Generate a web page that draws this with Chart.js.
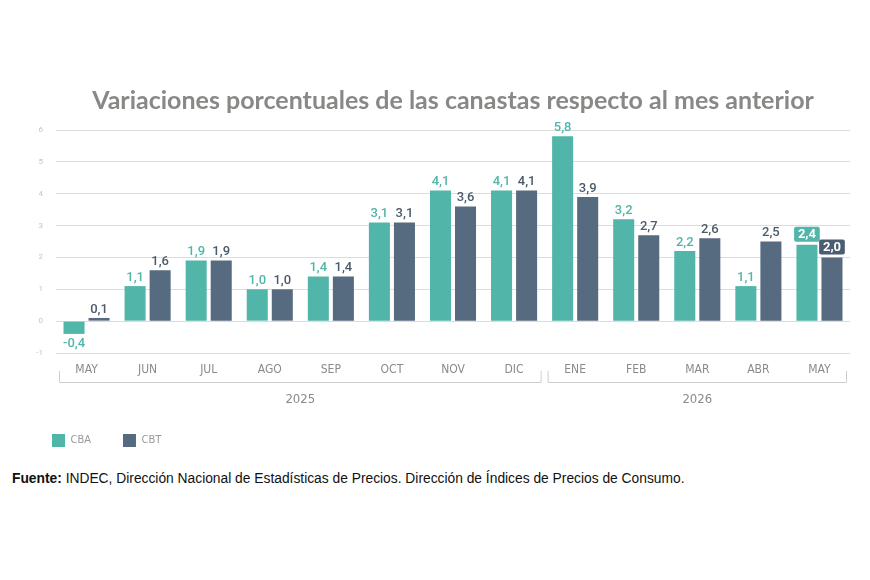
<!DOCTYPE html>
<html>
<head>
<meta charset="utf-8">
<script src="https://cdn.jsdelivr.net/npm/chart.js@4"></script>
<style>
  body { margin: 0; background: #fff; }
  #wrap { position: relative; width: 870px; height: 460px; }
  .fuente { position: absolute; left: 12px; top: 471px; font: 13.8px "Liberation Sans", Arial, sans-serif; color: #111; white-space: nowrap; }
</style>
</head>
<body>
<div id="wrap"><canvas id="myChart"></canvas></div>
<div class="fuente"><b>Fuente:</b> INDEC, Dirección Nacional de Estadísticas de Precios. Dirección de Índices de Precios de Consumo.</div>
<script>
const labels = ['MAY', 'JUN', 'JUL', 'AGO', 'SEP', 'OCT', 'NOV', 'DIC', 'ENE', 'FEB', 'MAR', 'ABR', 'MAY']
const years = [
    { label: '2025', from: 0, to: 7 },
    { label: '2026', from: 8, to: 12 },
]
const cba = [-0.4, 1.1, 1.9, 1.0, 1.4, 3.1, 4.1, 4.1, 5.8, 3.2, 2.2, 1.1, 2.4]
const cbt = [0.1, 1.6, 1.9, 1.0, 1.4, 3.1, 3.6, 4.1, 3.9, 2.7, 2.6, 2.5, 2.0]

const TEAL = '#52b5a9'
const SLATE = '#566a80'
const narrow = '"Liberation Sans Narrow", "DejaVu Sans Condensed", "Arial Narrow", sans-serif'

// etiquetas de valor sobre las barras
const valueLabels = {
    id: 'valueLabels',
    afterDatasetsDraw(chart) {
        const ctx = chart.ctx
        ctx.save()
        ctx.font = '500 13px Roboto, sans-serif'
        ctx.textAlign = 'center'
        chart.data.datasets.forEach((ds, di) => {
            const meta = chart.getDatasetMeta(di)
            meta.data.forEach((bar, i) => {
                const v = ds.data[i]
                const txt = v.toFixed(1).replace('.', ',')
                const last = i === ds.data.length - 1
                if (last) {
                    const w = ctx.measureText(txt).width + 8
                    const h = 15
                    const y = bar.y - 3 - h
                    ctx.fillStyle = di === 0 ? TEAL : '#4b5d70'
                    ctx.beginPath()
                    ctx.roundRect(bar.x - w / 2, y, w, h, 2)
                    ctx.fill()
                    ctx.fillStyle = '#fff'
                    ctx.font = 'bold 13px Roboto, sans-serif'
                    ctx.textBaseline = 'middle'
                    ctx.fillText(txt, bar.x, y + h / 2 + 1)
                    ctx.font = '500 13px Roboto, sans-serif'
                    return
                }
                ctx.fillStyle = di === 0 ? TEAL : '#4b5b6b'
                if (v < 0) {
                    ctx.textBaseline = 'top'
                    ctx.fillText(txt, bar.x, bar.y + 3)
                } else {
                    ctx.textBaseline = 'bottom'
                    ctx.fillText(txt, bar.x, bar.y - 2)
                }
            })
        })
        ctx.restore()
    }
}

// corchetes y años debajo del eje x
const yearBrackets = {
    id: 'yearBrackets',
    afterDraw(chart) {
        const ctx = chart.ctx
        const x = chart.scales.x
        const step = x.getPixelForValue(1) - x.getPixelForValue(0)
        const yLine = 382
        ctx.save()
        ctx.strokeStyle = '#cfcfcf'
        ctx.lineWidth = 1
        ctx.font = '13px ' + narrow
        ctx.fillStyle = '#8a8a8a'
        ctx.textAlign = 'center'
        ctx.textBaseline = 'middle'
        years.forEach((g) => {
            const a = x.getPixelForValue(g.from) - step / 2 + 3
            const b = x.getPixelForValue(g.to) + step / 2 - 3
            ctx.beginPath()
            ctx.moveTo(a + 0.5, yLine - 11)
            ctx.lineTo(a + 0.5, yLine + 0.5)
            ctx.lineTo(b - 0.5, yLine + 0.5)
            ctx.lineTo(b - 0.5, yLine - 11)
            ctx.stroke()
            ctx.fillText(g.label, (a + b) / 2, 400)
        })
        ctx.restore()
    }
}

const data = {
    labels: labels,
    datasets: [{
        label: 'CBA',
        backgroundColor: TEAL,
        data: cba,
        categoryPercentage: 0.82,
        barPercentage: 0.84,
    }, {
        label: 'CBT',
        backgroundColor: SLATE,
        data: cbt,
        categoryPercentage: 0.82,
        barPercentage: 0.84,
    }]
}

const config = {
    type: 'bar',
    data: data,
    plugins: [valueLabels, yearBrackets],
    options: {
        responsive: true,
        maintainAspectRatio: false,
        animation: false,
        layout: { padding: { left: 20, right: 20, top: 0, bottom: 3 } },
        plugins: {
            title: {
                display: true,
                fullSize: false,
                text: 'Variaciones porcentuales de las canastas respecto al mes anterior',
                color: '#8a8886',
                font: { family: 'Lato, sans-serif', size: 25, weight: 'bold' },
                padding: { top: 86, bottom: 14 },
            },
            legend: {
                position: 'bottom',
                align: 'start',
                labels: {
                    boxWidth: 13,
                    boxHeight: 13,
                    padding: 32,
                    color: '#999',
                    font: { family: narrow, size: 11 },
                },
            },
            tooltip: { enabled: false },
        },
        scales: {
            x: {
                grid: { display: false, drawTicks: false },
                border: { display: false },
                ticks: { color: '#8a8a8a', padding: 10, font: { family: narrow, size: 12 } },
                afterFit: (scale) => { scale.height = 49 },
            },
            y: {
                min: -1,
                max: 6,
                grid: { color: '#dcdcdc', drawTicks: false },
                border: { display: false },
                ticks: { stepSize: 1, color: '#c4c4c4', padding: 13, font: { family: 'Roboto, sans-serif', size: 8 } },
                afterFit: (scale) => { scale.width = 36 },
            },
        },
    },
}

new Chart(
    document.getElementById('myChart'),
    config
)
</script>
</body>
</html>
